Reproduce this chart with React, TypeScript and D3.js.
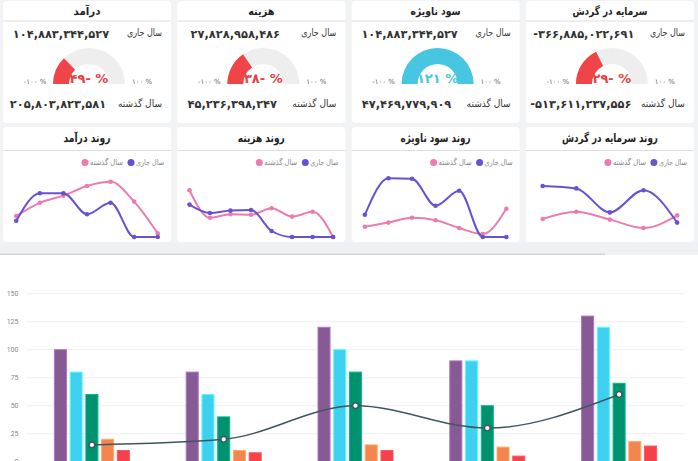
import React from "react";
import * as d3 from "d3";

// ---------- DATA ----------
const cardTitles = ["درآمد", "هزینه", "سود ناویژه", "سرمایه در گردش"];
const currentValues = [104883344527, 27828958486, 104883344527, -366885022691];
const lastValues = [205803823581, 45236398247, 47469779909, -513611237556];
const currentLabel = "سال جاری";
const lastLabel = "سال گذشته";
const gaugeMinLabel = -100;
const gaugeMaxLabel = 100;

const trendTitles = ["روند درآمد", "روند هزینه", "روند سود ناویژه", "روند سرمایه در گردش"];
const revenueCurrent = [27, 73, 73, 38, 57, 0, 0];
const revenueLast = [35, 57, 69, 85, 92, 59, 6];
const costCurrent = [54, 40, 44, 45, 10, 0, 0, 0];
const costLast = [78, 32, 38, 37, 48, 34, 42, 0];
const profitCurrent = [37, 98, 97, 52, 77, 0, 0];
const profitLast = [17, 24, 32, 28, 15, 5, 47];
const capitalCurrent = [85, 81, 41, 78, 24];
const capitalLast = [30, 42, 29, 15, 36];
const trendCurrent = [revenueCurrent, costCurrent, profitCurrent, capitalCurrent];
const trendLast = [revenueLast, costLast, profitLast, capitalLast];

const barCategories = ["A", "B", "C", "D", "E"];
const series1 = [100, 80, 120, 90, 130];
const series2 = [80, 60, 100, 90, 120];
const series3 = [60, 40, 80, 50, 70];
const series4 = [20, 10, 15, 13, 18];
const series5 = [10, 8, 10, 5, 14];
const lineSeries = [15, 20, 50, 30, 60];
const barSeries = [series1, series2, series3, series4, series5];
const yTicks = [0, 25, 50, 75, 100, 125, 150];

// ---------- STYLE ----------
const W = 698;
const H = 461;
const FA = "'DejaVu Sans', sans-serif";
const barColors = ["#885a95", "#3fd0ef", "#00926f", "#f5854f", "#f4424b"];
const purple = "#6a51d4";
const pink = "#ee7bb0";
// rendered widths of the Persian captions (style only)
const titleWidths = [27, 26, 50, 75];
const trendTitleWidths = [47, 47, 70, 96];
const labelWidthCur = 35;
const labelWidthLast = 44;
const legendWidthCur = 28;
const legendWidthLast = 33;

const pDigits = "۰۱۲۳۴۵۶۷۸۹";
const toFa = (s: string) => s.replace(/[0-9]/g, (c) => pDigits[+c]);
const fmtNum = (v: number) => (v < 0 ? "-" : "") + toFa(d3.format(",")(Math.abs(v)));
const fmtPct = (p: number) => toFa(String(Math.abs(p))) + (p < 0 ? "-" : "") + " %";

const cardX = (i: number) => 3 + i * 174.3;
const cardW = 168;

function FaText(props: {
  x: number;
  y: number;
  len: number;
  anchor: "start" | "middle" | "end";
  size: number;
  bold?: boolean;
  fill: string;
  children: string;
}) {
  return (
    <text
      x={props.x}
      y={props.y}
      textAnchor={props.anchor}
      fontFamily={FA}
      fontSize={props.size}
      fontWeight={props.bold ? "bold" : "normal"}
      fill={props.fill}
      textLength={props.len}
      lengthAdjust="spacingAndGlyphs"
    >
      {props.children}
    </text>
  );
}

function TopCard({ i }: { i: number }) {
  const x = cardX(i);
  const cur = currentValues[i];
  const last = lastValues[i];
  const pct = Math.round((cur / last - 1) * 100);
  const positive = pct >= 0;
  const color = positive ? "#47c6e2" : "#ef4548";
  const textColor = positive ? "#47c6e2" : "#e8403f";
  const g = d3
    .scaleLinear()
    .domain([gaugeMinLabel, gaugeMaxLabel])
    .range([-Math.PI / 2, Math.PI / 2])
    .clamp(true);
  const cx = x + 86;
  const cy = 84;
  const arc = d3.arc<any>().innerRadius(20).outerRadius(36);
  const track = arc({ startAngle: -Math.PI / 2, endAngle: Math.PI / 2 }) || "";
  const fill = arc({ startAngle: -Math.PI / 2, endAngle: g(pct) }) || "";
  return (
    <g>
      <rect x={x} y={1} width={cardW} height={122} rx={4} fill="#fff" />
      <FaText x={x + cardW / 2} y={15} len={titleWidths[i]} anchor="middle" size={11} bold fill="#222">
        {cardTitles[i]}
      </FaText>
      <line x1={x} x2={x + cardW} y1={21} y2={21} stroke="#dedede" />
      <FaText x={x + cardW - 9} y={36} len={labelWidthCur} anchor="end" size={10} fill="#333">
        {currentLabel}
      </FaText>
      <text x={x + 58} y={38} textAnchor="middle" fontFamily={FA} fontWeight="bold" fontSize={11.4} fill="#333" direction="ltr">
        {fmtNum(cur)}
      </text>
      <g transform={`translate(${cx},${cy})`}>
        <path d={track} fill="#eeeeee" />
        <path d={fill} fill={color} />
      </g>
      <text x={cx} y={83} textAnchor="middle" fontFamily={FA} fontWeight="bold" fontSize={13} fill={textColor} direction="ltr">
        {fmtPct(pct)}
      </text>
      <text x={x + 32} y={84} textAnchor="middle" fontFamily={FA} fontSize={7} fill="#666" direction="ltr">
        {fmtNum(gaugeMinLabel) + " %"}
      </text>
      <text x={x + 139} y={84} textAnchor="middle" fontFamily={FA} fontSize={7} fill="#666" direction="ltr">
        {fmtNum(gaugeMaxLabel) + " %"}
      </text>
      <FaText x={x + cardW - 9} y={107} len={labelWidthLast} anchor="end" size={10} fill="#333">
        {lastLabel}
      </FaText>
      <text x={x + 55} y={108} textAnchor="middle" fontFamily={FA} fontWeight="bold" fontSize={11.4} fill="#333" direction="ltr">
        {fmtNum(last)}
      </text>
    </g>
  );
}

function TrendCard({ i }: { i: number }) {
  const x = cardX(i);
  const cur = trendCurrent[i];
  const last = trendLast[i];
  const xs = d3
    .scalePoint<number>()
    .domain(d3.range(cur.length))
    .range([x + 5, x + 163])
    .padding(0.35);
  const ys = d3.scaleLinear().domain([0, 100]).range([237, 177]);
  const line = d3
    .line<number>()
    .x((_, j) => xs(j) as number)
    .y((v) => ys(v))
    .curve(d3.curveMonotoneX);
  const seriesList = [
    { data: last, color: pink },
    { data: cur, color: purple },
  ];
  return (
    <g>
      <rect x={x} y={127} width={cardW} height={115} rx={4} fill="#fff" />
      <FaText x={x + cardW / 2} y={142} len={trendTitleWidths[i]} anchor="middle" size={11.5} bold fill="#222">
        {trendTitles[i]}
      </FaText>
      <line x1={x} x2={x + cardW} y1={150.5} y2={150.5} stroke="#dedede" />
      <circle cx={x + 128} cy={162.5} r={3.5} fill={purple} />
      <FaText x={x + 161} y={165} len={legendWidthCur} anchor="end" size={8} fill="#888">
        {currentLabel}
      </FaText>
      <circle cx={x + 82} cy={162.5} r={3.5} fill={pink} />
      <FaText x={x + 120} y={165} len={legendWidthLast} anchor="end" size={8} fill="#888">
        {lastLabel}
      </FaText>
      {seriesList.map((s, k) => (
        <g key={k}>
          <path d={line(s.data) || ""} fill="none" stroke={s.color} strokeWidth={2} />
          {s.data.map((v, j) => (
            <circle key={j} cx={xs(j)} cy={ys(v)} r={2.3} fill={s.color} />
          ))}
        </g>
      ))}
    </g>
  );
}

function BarChart() {
  const x0 = d3.scaleBand<string>().domain(barCategories).range([26, 685]);
  const y = d3.scaleLinear().domain([0, 150]).range([461.7, 293.7]);
  const half = 37.5;
  const x1 = d3
    .scaleBand<number>()
    .domain(d3.range(barSeries.length))
    .range([-half, half])
    .paddingInner(0.235);
  const center = (c: string) => (x0(c) as number) + x0.bandwidth() / 2;
  const line = d3
    .line<number>()
    .x((_, j) => center(barCategories[j]))
    .y((v) => y(v))
    .curve(d3.curveMonotoneX);
  return (
    <g>
      <rect x={0} y={255} width={W} height={H - 255} fill="#fff" />
      {yTicks.map((t) => (
        <g key={t}>
          <line x1={26} x2={685} y1={y(t)} y2={y(t)} stroke="#f0f0f0" />
          <text x={18.5} y={y(t) + 2.5} textAnchor="end" fontFamily="Roboto, sans-serif" fontSize={7} fill="#888">
            {t}
          </text>
        </g>
      ))}
      {barSeries.map((s, k) => (
        <g key={k}>
          {s.map((v, j) => {
            const bx = center(barCategories[j]) + (x1(k) as number);
            return (
              <rect
                key={j}
                x={bx}
                y={y(v)}
                width={x1.bandwidth()}
                height={y(0) - y(v)}
                fill={barColors[k]}
                stroke={d3.color(barColors[k])!.brighter(0.7).formatHex()}
                strokeWidth={1}
              />
            );
          })}
        </g>
      ))}
      <path d={line(lineSeries) || ""} fill="none" stroke="#3f5660" strokeWidth={1.5} />
      {lineSeries.map((v, j) => (
        <circle key={j} cx={center(barCategories[j])} cy={y(v)} r={2.8} fill="#fff" stroke="#3f5660" strokeWidth={1.3} />
      ))}
    </g>
  );
}

export default function App() {
  return (
    <svg
      width={W}
      height={H}
      viewBox={`0 0 ${W} ${H}`}
      style={{ position: "absolute", left: 0, top: 0, display: "block" }}
    >
      <rect x={0} y={0} width={W} height={H} fill="#f2f3f5" />
      {d3.range(4).map((i) => (
        <TopCard key={i} i={i} />
      ))}
      {d3.range(4).map((i) => (
        <TrendCard key={i} i={i} />
      ))}
      <rect x={0} y={243} width={W} height={11} fill="#eef0f3" />
      <rect x={0} y={253.5} width={605} height={2} fill="#d3d5da" />
      <BarChart />
    </svg>
  );
}
